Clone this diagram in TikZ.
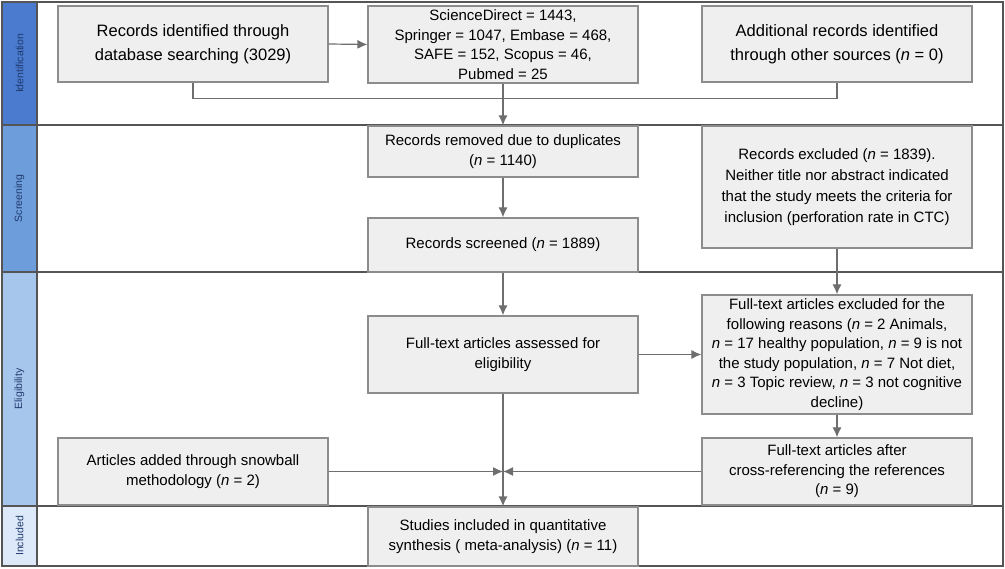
\documentclass[tikz,border=0pt]{standalone}
\usepackage{fontspec}
\setmainfont{Liberation Sans}
\usetikzlibrary{arrows.meta}

\definecolor{boxfill}{HTML}{EFEFEF}
\definecolor{boxline}{HTML}{8C8C8C}
\definecolor{linkgray}{HTML}{6E6E6E}
\definecolor{framegray}{HTML}{555555}
\definecolor{bandtext}{HTML}{1F3A6E}
\definecolor{bandA}{HTML}{4A7BCF}
\definecolor{bandB}{HTML}{6E9DDB}
\definecolor{bandC}{HTML}{A7C6EC}
\definecolor{bandD}{HTML}{DDE9F8}

\newcommand{\nn}{\textit{n}}

\begin{document}
\begin{tikzpicture}[x=1pt,y=-1pt, line width=1.2pt]
    \tikzstyle{box} = [draw=boxline, fill=boxfill, rectangle, minimum width=270pt, align=center, inner sep=2pt, font=\fontsize{15}{19.5}\selectfont]
    \tikzstyle{bigbox} = [box, font=\fontsize{16.5}{24}\selectfont]
    \tikzstyle{band} = [rotate=90, text=bandtext, font=\fontsize{10.5}{12}\selectfont]
    \tikzstyle{link} = [draw=linkgray, line width=1.2pt]
    \tikzstyle{arr} = [link, -{Latex[length=10pt,width=9pt]}]
    \tikzstyle{frame} = [draw=framegray, line width=1.8pt]

    \useasboundingbox (0,0) rectangle (1005,569);

    % Phase stripes
    \fill[bandA] (2,2) rectangle (37,125);
    \fill[bandB] (2,125) rectangle (37,272);
    \fill[bandC] (2,272) rectangle (37,506);
    \fill[bandD] (2,506) rectangle (37,566);
    \node[band] (identification) at (19.5,63.5) {Identification};
    \node[band] (screening) at (19.5,198.5) {Screening};
    \node[band] (eligibility) at (19.5,389) {Eligibility};
    \node[band] (included) at (19.5,536) {Included};

    % Frame and row lines
    \draw[frame] (2,2) rectangle (1003,566);
    \draw[frame] (37,2) -- (37,566);
    \draw[frame] (2,125) -- (1003,125);
    \draw[frame] (2,272) -- (1003,272);
    \draw[frame] (2,506) -- (1003,506);

    % Identification row
    \node[bigbox, minimum height=76pt] (dbsearch) at (193,44) {Records identified through\\database searching (3029)};
    \node[box, minimum height=77pt] (sources) at (503,44.5) {ScienceDirect = 1443,\\Springer = 1047, Embase = 468,\\SAFE = 152, Scopus = 46,\\Pubmed = 25};
    \node[bigbox, minimum height=76pt] (additional) at (837,44) {Additional records identified\\through other sources (\nn{} = 0)};

    % Screening row
    \node[box, minimum height=51pt] (removed) at (503,151.5) {Records removed due to duplicates\\(\nn{} = 1140)};
    \node[box, minimum height=54pt] (screened) at (503,245) {Records screened (\nn{} = 1889)};
    \node[box, minimum height=122pt, font=\fontsize{15}{21}\selectfont] (excluded) at (837,187) {Records excluded (\nn{} = 1839).\\Neither title nor abstract indicated\\that the study meets the criteria for\\inclusion (perforation rate in CTC)};

    % Eligibility row
    \node[box, minimum height=77pt] (assessed) at (503,354.5) {Full-text articles assessed for\\eligibility};
    \node[box, minimum height=119pt] (ftexcluded) at (837,354.5) {Full-text articles excluded for the\\following reasons (\nn{} = 2 Animals,\\\nn{} = 17 healthy population, \nn{} = 9 is not\\the study population, \nn{} = 7 Not diet,\\\nn{} = 3 Topic review, \nn{} = 3 not cognitive\\decline)};
    \node[box, minimum height=67pt] (ftafter) at (837,471.5) {Full-text articles after\\cross-referencing the references\\(\nn{} = 9)};
    \node[box, minimum height=67pt] (snowball) at (193,471.5) {Articles added through snowball\\methodology (\nn{} = 2)};

    % Included row
    \node[box, minimum height=59pt] (studies) at (503,536.5) {Studies included in quantitative\\synthesis ( meta-analysis) (\nn{} = 11)};

    % Connectors
    \coordinate (merge) at (503,471.5);
    \draw[arr] (dbsearch.east) -- (sources.west);
    \draw[link] (dbsearch.south) -- ++(0,16) -| (additional.south);
    \draw[arr] (sources.south) -- (removed.north);
    \draw[arr] (removed.south) -- (screened.north);
    \draw[arr] (screened.south) -- (assessed.north);
    \draw[arr] (excluded.south) -- (ftexcluded.north);
    \draw[arr] (assessed.east) -- (ftexcluded.west);
    \draw[arr] (ftexcluded.south) -- (ftafter.north);
    \draw[link] (assessed.south) -- (merge);
    \draw[arr] (snowball.east) -- (merge);
    \draw[arr] (ftafter.west) -- (merge);
    \draw[arr] (merge) -- (studies.north);
\end{tikzpicture}
\end{document}
